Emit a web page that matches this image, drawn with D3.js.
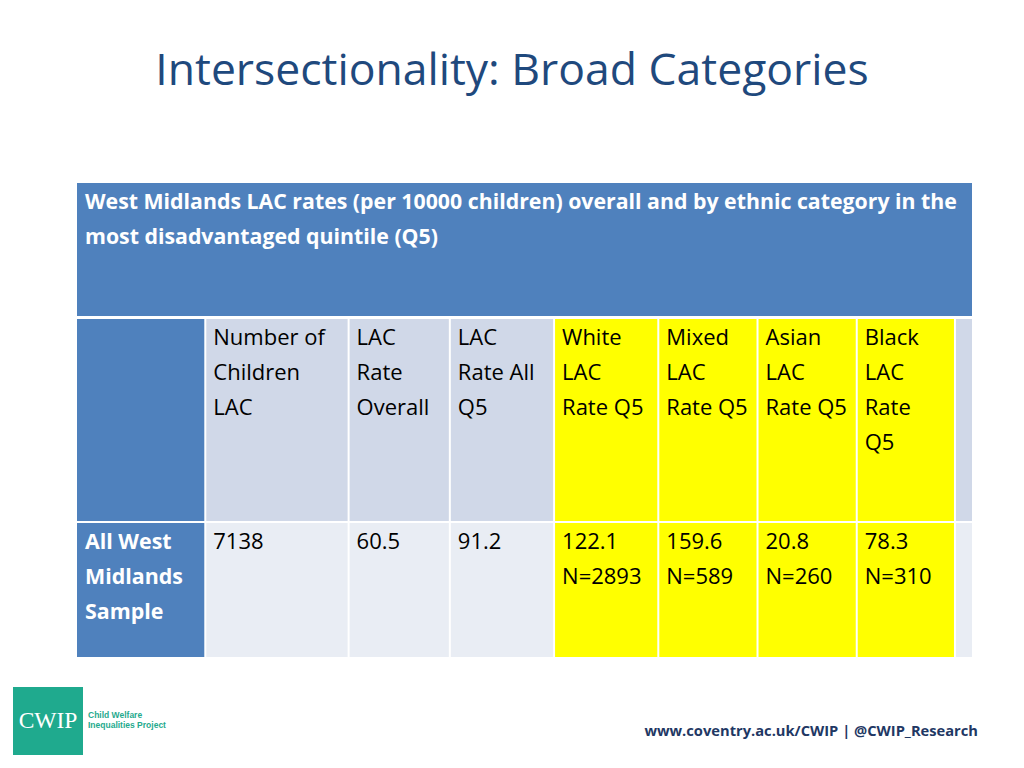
<!DOCTYPE html>
<html>
<head>
<meta charset="utf-8">
<script src="https://cdn.jsdelivr.net/npm/d3@7"></script>
<style>
  html, body { margin: 0; padding: 0; background: #ffffff; }
  svg { display: block; }
</style>
</head>
<body>
<svg id="chart" width="1024" height="768"></svg>
<script>
// ---- Data ----
const slideTitle = "Intersectionality: Broad Categories";
const tableCaption = [
  "West Midlands LAC rates (per 10000 children) overall and by ethnic category in the",
  "most disadvantaged quintile (Q5)"
];
const columnHeaders = [
  [],
  ["Number of", "Children", "LAC"],
  ["LAC", "Rate", "Overall"],
  ["LAC", "Rate All", "Q5"],
  ["White", "LAC", "Rate Q5"],
  ["Mixed", "LAC", "Rate Q5"],
  ["Asian", "LAC", "Rate Q5"],
  ["Black", "LAC", "Rate", "Q5"],
  []
];
const rowLabel = ["All West", "Midlands", "Sample"];
const rowValues = [7138, 60.5, 91.2, 122.1, 159.6, 20.8, 78.3];
const rowCounts = [null, null, null, 2893, 589, 260, 310];
const highlighted = [false, false, false, false, true, true, true, true, false];
const footerText = "www.coventry.ac.uk/CWIP | @CWIP_Research";

// ---- Layout ----
const colUnits = [128, 143, 101, 104, 104, 99, 99, 98, 17];
const font = "'Open Sans', sans-serif";
const svg = d3.select("#chart");

const cum = [0];
colUnits.forEach(u => cum.push(cum[cum.length - 1] + u));
const x = d3.scaleLinear().domain([0, cum[cum.length - 1]]).range([77, 972]);
const gap = 2;

// Title
svg.append("text")
  .attr("x", 512).attr("y", 85)
  .attr("text-anchor", "middle")
  .attr("font-family", font)
  .attr("font-size", 44.5)
  .attr("fill", "#1F497D")
  .text(slideTitle);

// Rows
const yTop = d3.scaleOrdinal().domain(["cap", "head", "body"]).range([183, 319, 523]);
const yBot = d3.scaleOrdinal().domain(["cap", "head", "body"]).range([316, 521, 657]);

svg.append("rect")
  .attr("x", x(0)).attr("y", yTop("cap"))
  .attr("width", x(cum[cum.length - 1]) - x(0))
  .attr("height", yBot("cap") - yTop("cap"))
  .attr("fill", "#4F81BD");

svg.append("g").selectAll("text").data(tableCaption).join("text")
  .attr("x", 85)
  .attr("y", (d, i) => 209 + i * 35)
  .attr("font-family", font)
  .attr("font-size", 21.3)
  .attr("font-weight", "bold")
  .attr("fill", "#ffffff")
  .text(d => d);

function cellFill(row, i) {
  if (i === 0) return "#4F81BD";
  if (highlighted[i]) return "#FFFF00";
  return row === "head" ? "#D0D8E8" : "#E9EDF4";
}

["head", "body"].forEach(row => {
  const g = svg.append("g");
  g.selectAll("rect").data(colUnits).join("rect")
    .attr("x", (d, i) => x(cum[i]) + (i === 0 ? 0 : gap / 2))
    .attr("y", yTop(row))
    .attr("width", (d, i) => x(cum[i + 1]) - x(cum[i]) - (i === 0 ? gap / 2 : gap) + (i === colUnits.length - 1 ? gap / 2 : 0))
    .attr("height", yBot(row) - yTop(row))
    .attr("fill", (d, i) => cellFill(row, i));
});

const headG = svg.append("g");
columnHeaders.forEach((lines, i) => {
  headG.selectAll(null).data(lines).join("text")
    .attr("x", x(cum[i]) + 8)
    .attr("y", (d, j) => 345 + j * 35)
    .attr("font-family", font)
    .attr("font-size", 22)
    .attr("fill", "#000000")
    .text(d => d);
});

svg.append("g").selectAll("text").data(rowLabel).join("text")
  .attr("x", x(0) + 8)
  .attr("y", (d, j) => 549 + j * 35)
  .attr("font-family", font)
  .attr("font-size", 21.4)
  .attr("font-weight", "bold")
  .attr("fill", "#ffffff")
  .text(d => d);

const bodyG = svg.append("g");
rowValues.forEach((v, k) => {
  const i = k + 1;
  const lines = [String(v)];
  if (rowCounts[k] !== null) lines.push("N=" + rowCounts[k]);
  bodyG.selectAll(null).data(lines).join("text")
    .attr("x", x(cum[i]) + 8)
    .attr("y", (d, j) => 549 + j * 35)
    .attr("font-family", font)
    .attr("font-size", 22)
    .attr("fill", "#000000")
    .text(d => d);
});

// Logo
const logo = svg.append("g");
logo.append("rect").attr("x", 13).attr("y", 687).attr("width", 70).attr("height", 68).attr("fill", "#1FAA8E");
logo.append("text").attr("x", 48).attr("y", 728).attr("text-anchor", "middle")
  .attr("font-family", "'Liberation Serif', serif").attr("font-size", 23.5).attr("fill", "#ffffff").text("CWIP");
logo.append("text").attr("x", 88).attr("y", 718)
  .attr("font-family", "'Liberation Sans', Arial, sans-serif").attr("font-size", 8.5).attr("font-weight", "bold")
  .attr("fill", "#1FAA8E").text("Child Welfare");
logo.append("text").attr("x", 88).attr("y", 728)
  .attr("font-family", "'Liberation Sans', Arial, sans-serif").attr("font-size", 8.5).attr("font-weight", "bold")
  .attr("fill", "#1FAA8E").text("Inequalities Project");

// Footer
svg.append("text")
  .attr("x", 978).attr("y", 736)
  .attr("text-anchor", "end")
  .attr("font-family", font)
  .attr("font-size", 14.7)
  .attr("font-weight", "bold")
  .attr("fill", "#1F3864")
  .text(footerText);
</script>
</body>
</html>
